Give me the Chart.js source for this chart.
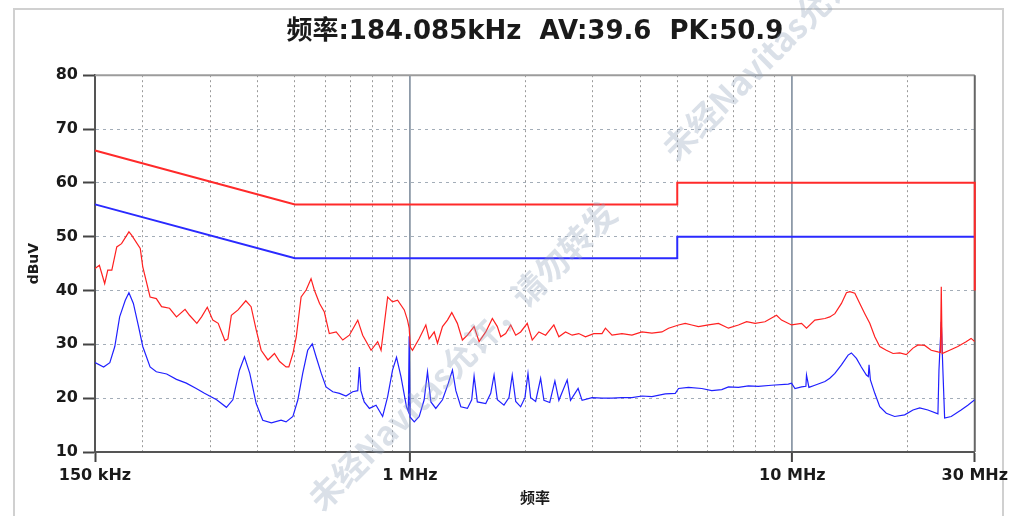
<!DOCTYPE html>
<html>
<head>
<meta charset="utf-8">
<script src="https://cdn.jsdelivr.net/npm/chart.js@4.4.1/dist/chart.umd.min.js"></script>
<style>
  html, body { margin: 0; padding: 0; background: #fff; overflow: hidden; }
  #frame { position: absolute; left: 13px; top: 8px; width: 987px; height: 530px; border: 2px solid #d0d0d0; }
  #wrap { position: absolute; left: 0; top: 0; width: 1012px; height: 516px; }
</style>
</head>
<body>
<div id="frame"></div>
<div id="wrap"><canvas id="emiChart" width="1012" height="516"></canvas></div>
<script>
const titleText = '频率:184.085kHz  AV:39.6  PK:50.9';

// x grid (MHz) and the few labelled ones
const xGridFreq = [0.15, 0.2, 0.3, 0.4, 0.5, 0.6, 0.7, 0.8, 0.9, 1, 2, 3, 4, 5, 6, 7, 8, 9, 10, 20, 30];
const xLabelFreq = [0.15, 1, 10, 30];
const xLabelText = ['150 kHz', '1 MHz', '10 MHz', '30 MHz'];
const xMajorFreq = [1, 10];

// limit lines
const qpLimitFreq = [0.15, 0.5, 5, 5, 30, 30];
const qpLimitLevel = [66, 56, 56, 60, 60, 40];
const avLimitFreq = [0.15, 0.5, 5, 5, 30];
const avLimitLevel = [56, 46, 46, 50, 50];

// peak trace (red)
const peakFreq = [
  0.150, 0.154, 0.159, 0.162, 0.166, 0.171, 0.176, 0.184, 0.187, 0.197,
  0.200, 0.209, 0.217, 0.224, 0.235, 0.245, 0.258, 0.265, 0.277, 0.285,
  0.295, 0.305, 0.315, 0.328, 0.334, 0.341, 0.355, 0.372, 0.384, 0.396,
  0.408, 0.425, 0.442, 0.456, 0.474, 0.482, 0.494, 0.504, 0.519, 0.535,
  0.551, 0.562, 0.580, 0.597, 0.615, 0.641, 0.667, 0.694, 0.730, 0.752,
  0.791, 0.823, 0.840, 0.874, 0.900, 0.928, 0.966, 0.985, 0.995, 1.002,
  1.015, 1.057, 1.100, 1.122, 1.157, 1.180, 1.216, 1.253, 1.286, 1.330,
  1.371, 1.413, 1.471, 1.516, 1.578, 1.642, 1.692, 1.727, 1.779, 1.834,
  1.890, 1.947, 2.026, 2.088, 2.173, 2.263, 2.378, 2.451, 2.551, 2.655,
  2.763, 2.877, 3.024, 3.178, 3.244, 3.375, 3.584, 3.806, 4.042, 4.293,
  4.559, 4.745, 5.039, 5.246, 5.457, 5.681, 6.035, 6.408, 6.806, 7.227,
  7.594, 7.99, 8.48, 9.09, 9.37, 9.95, 10.57, 10.89, 11.45, 12.17,
  12.53, 12.92, 13.44, 13.85, 14.14, 14.57, 15.01, 15.47, 15.94, 16.43,
  16.93, 17.61, 18.34, 19.10, 19.86, 20.68, 21.32, 22.19, 23.08, 24.03,
  24.40, 24.52, 24.65, 25.78, 27.09, 28.47, 29.34, 30.0
];
const peakLevel = [
  44.1, 44.7, 41.3, 43.8, 43.8, 48.1, 48.7, 50.9, 50.3, 47.8,
  44.4, 38.8, 38.5, 37.0, 36.7, 35.1, 36.5, 35.4, 33.9, 35.1,
  36.9, 34.5, 33.9, 30.7, 31.0, 35.4, 36.4, 38.1, 37.0, 32.7,
  28.9, 27.1, 28.3, 26.8, 25.8, 25.8, 28.3, 31.4, 38.8, 40.1,
  42.2, 40.1, 37.6, 36.0, 32.0, 32.3, 30.8, 31.7, 34.5, 31.7,
  28.9, 30.5, 28.9, 38.8, 37.9, 38.2, 36.4, 34.5, 33.0, 29.5,
  28.9, 31.1, 33.6, 31.0, 32.3, 30.2, 33.3, 34.5, 35.9, 33.9,
  30.8, 31.7, 33.3, 30.5, 32.3, 34.8, 33.3, 31.4, 32.0, 33.6,
  31.7, 32.3, 33.9, 30.8, 32.3, 31.7, 33.6, 31.4, 32.3, 31.7,
  32.0, 31.4, 32.0, 32.0, 33.0, 31.7, 32.0, 31.7, 32.3, 32.1,
  32.3, 33.0, 33.6, 33.9, 33.6, 33.3, 33.6, 33.9, 33.0, 33.6,
  34.2, 33.9, 34.2, 35.4, 34.5, 33.6, 33.9, 33.0, 34.5, 34.8,
  35.1, 35.7, 37.6, 39.6, 39.8, 39.5, 37.6, 35.7, 33.9, 31.4,
  29.6, 28.9, 28.3, 28.4, 28.1, 29.3, 29.9, 29.8, 28.9, 28.6,
  28.5, 40.7, 28.3, 28.9, 29.6, 30.5, 31.1, 30.5
];

// average trace (blue)
const avgFreq = [
  0.150, 0.158, 0.164, 0.169, 0.174, 0.180, 0.184, 0.189, 0.195, 0.200,
  0.209, 0.217, 0.231, 0.245, 0.260, 0.276, 0.290, 0.312, 0.331, 0.344,
  0.358, 0.369, 0.381, 0.396, 0.412, 0.434, 0.460, 0.474, 0.494, 0.509,
  0.524, 0.540, 0.555, 0.568, 0.586, 0.603, 0.628, 0.654, 0.680, 0.708,
  0.730, 0.737, 0.744, 0.759, 0.783, 0.815, 0.848, 0.874, 0.900, 0.922,
  0.947, 0.979, 0.990, 0.995, 1.000, 1.026, 1.057, 1.089, 1.111, 1.134,
  1.168, 1.216, 1.260, 1.291, 1.318, 1.358, 1.413, 1.450, 1.471, 1.500,
  1.578, 1.626, 1.659, 1.692, 1.761, 1.815, 1.851, 1.890, 1.947, 1.998,
  2.035, 2.068, 2.131, 2.196, 2.240, 2.320, 2.393, 2.451, 2.577, 2.629,
  2.752, 2.819, 2.993, 3.178, 3.375, 3.584, 3.806, 4.042, 4.293, 4.652,
  4.941, 5.039, 5.350, 5.796, 6.155, 6.537, 6.806, 7.227, 7.674, 8.147,
  8.82, 9.76, 9.95, 10.16, 10.57, 10.85, 10.89, 11.05, 11.45, 12.17,
  12.53, 12.92, 13.44, 13.99, 14.27, 14.71, 15.15, 15.62, 15.80, 15.87,
  16.00, 16.43, 16.93, 17.61, 18.52, 19.67, 20.68, 21.53, 22.62, 24.03,
  24.18, 24.52, 24.76, 25.02, 26.03, 27.63, 28.77, 30.0
];
const avgLevel = [
  26.6, 25.8, 26.6, 29.6, 35.1, 38.2, 39.6, 37.6, 33.3, 29.6,
  25.8, 24.9, 24.5, 23.5, 22.8, 21.8, 20.9, 19.7, 18.3, 19.7,
  25.2, 27.7, 24.6, 19.0, 15.9, 15.4, 15.9, 15.6, 16.6, 19.7,
  24.6, 28.9, 30.1, 27.7, 24.6, 22.1, 21.2, 20.9, 20.4, 21.2,
  21.4, 25.8, 21.4, 19.3, 18.1, 18.7, 16.6, 20.3, 25.2, 27.6,
  24.0, 18.4, 17.5, 31.5, 16.5, 15.6, 16.6, 19.7, 24.9, 19.3,
  18.1, 19.7, 22.8, 25.2, 21.4, 18.4, 18.1, 19.7, 24.1, 19.3,
  19.0, 20.9, 24.3, 19.7, 18.7, 20.1, 24.3, 19.4, 18.4, 20.1,
  24.6, 20.1, 19.4, 23.7, 19.6, 19.2, 23.2, 19.6, 23.4, 19.6,
  21.8, 19.6, 20.1, 20.0, 20.0, 20.1, 20.1, 20.4, 20.3, 20.8,
  20.9, 21.8, 22.0, 21.8, 21.4, 21.6, 22.1, 22.0, 22.3, 22.2,
  22.4, 22.6, 22.8, 21.8, 22.1, 22.2, 24.3, 22.0, 22.4, 23.1,
  23.7, 24.6, 26.2, 28.0, 28.4, 27.4, 25.8, 24.3, 24.0, 26.2,
  23.4, 20.9, 18.4, 17.2, 16.6, 16.9, 17.8, 18.2, 17.8, 17.1,
  25.2, 34.2, 25.2, 16.3, 16.6, 17.8, 18.7, 19.7
];

const watermarkText = '未经Navitas允许，请勿转发';

function pairs(xs, ys) {
  return xs.map((x, i) => ({ x: x, y: ys[i] }));
}

const labelFont = { family: "'DejaVu Sans', 'Noto Sans CJK SC', sans-serif", size: 16, weight: 'bold' };

const framePlugin = {
  id: 'frame',
  beforeDatasetsDraw(chart) {
    const { ctx, chartArea: a } = chart;
    ctx.save();
    ctx.lineWidth = 2;
    ctx.strokeStyle = '#9c9c9c';
    ctx.beginPath();
    ctx.moveTo(a.left, a.top);
    ctx.lineTo(a.right, a.top);
    ctx.stroke();
    ctx.strokeStyle = '#666';
    ctx.beginPath();
    ctx.moveTo(a.right, a.top);
    ctx.lineTo(a.right, a.bottom);
    ctx.stroke();
    ctx.restore();
  }
};

const watermarkPlugin = {
  id: 'watermark',
  afterDraw(chart) {
    const ctx = chart.ctx;
    ctx.save();
    ctx.fillStyle = 'rgba(150, 165, 190, 0.35)';
    ctx.font = "bold 33px 'Noto Sans CJK SC', sans-serif";
    ctx.textBaseline = 'middle';
    [[314, 504], [668, 154]].forEach(([x, y]) => {
      ctx.save();
      ctx.translate(x, y);
      ctx.rotate(-Math.PI / 4);
      ctx.fillText(watermarkText, 0, 0);
      ctx.restore();
    });
    ctx.restore();
  }
};

new Chart(document.getElementById('emiChart'), {
  type: 'line',
  data: {
    datasets: [
      { label: 'QP limit', data: pairs(qpLimitFreq, qpLimitLevel), borderColor: '#ff2a2a', borderWidth: 2, clip: 4 },
      { label: 'AV limit', data: pairs(avLimitFreq, avLimitLevel), borderColor: '#2a2aff', borderWidth: 2, clip: 4 },
      { label: 'Peak', data: pairs(peakFreq, peakLevel), borderColor: '#ff2020', borderWidth: 1.2 },
      { label: 'Average', data: pairs(avgFreq, avgLevel), borderColor: '#2020ff', borderWidth: 1.2 }
    ]
  },
  options: {
    responsive: false,
    animation: false,
    layout: { padding: { top: 0, left: 0, right: 35, bottom: 0 } },
    elements: {
      point: { radius: 0 },
      line: { tension: 0, fill: false }
    },
    plugins: {
      legend: { display: false },
      tooltip: { enabled: false },
      title: {
        display: true,
        fullSize: false,
        text: titleText,
        color: '#1a1a1a',
        font: { family: "'DejaVu Sans', 'Noto Sans CJK SC', sans-serif", size: 26, weight: 'bold' },
        padding: { top: 17, bottom: 27 }
      }
    },
    scales: {
      x: {
        type: 'logarithmic',
        min: 0.15,
        max: 30,
        afterBuildTicks: axis => { axis.ticks = xGridFreq.map(v => ({ value: v })); },
        afterFit: axis => { axis.height = 64; },
        ticks: {
          autoSkip: false,
          maxRotation: 0,
          padding: 4,
          color: '#1a1a1a',
          font: labelFont,
          callback: v => {
            const i = xLabelFreq.indexOf(v);
            return i >= 0 ? xLabelText[i] : '';
          }
        },
        grid: {
          color: c => xMajorFreq.includes(c.tick && c.tick.value) ? '#8d9aa8' : '#9a9a9a',
          lineWidth: c => xMajorFreq.includes(c.tick && c.tick.value) ? 1.8 : 1,
          tickLength: 10,
          tickWidth: 2,
          tickColor: c => xLabelFreq.includes(c.tick && c.tick.value) ? '#444' : 'rgba(0,0,0,0)'
        },
        border: {
          color: '#555',
          width: 2,
          dash: c => xMajorFreq.includes(c.tick && c.tick.value) ? [] : [2, 3]
        },
        title: {
          display: true,
          text: '频率',
          color: '#1a1a1a',
          font: { family: "'Noto Sans CJK SC', sans-serif", size: 15, weight: 'bold' },
          padding: { top: 0, bottom: 10 }
        }
      },
      y: {
        min: 10,
        max: 80,
        afterFit: axis => { axis.width = 95; },
        ticks: { stepSize: 10, padding: 5, color: '#1a1a1a', font: labelFont },
        grid: { color: '#a3adb8', tickLength: 12, tickWidth: 2, tickColor: '#444' },
        border: { color: '#555', width: 2, dash: [3, 4] },
        title: {
          display: true,
          text: 'dBuV',
          color: '#1a1a1a',
          font: { family: "'DejaVu Sans', sans-serif", size: 14, weight: 'bold' },
          padding: { top: 26, bottom: 0 }
        }
      }
    }
  },
  plugins: [framePlugin, watermarkPlugin]
});
</script>
</body>
</html>
